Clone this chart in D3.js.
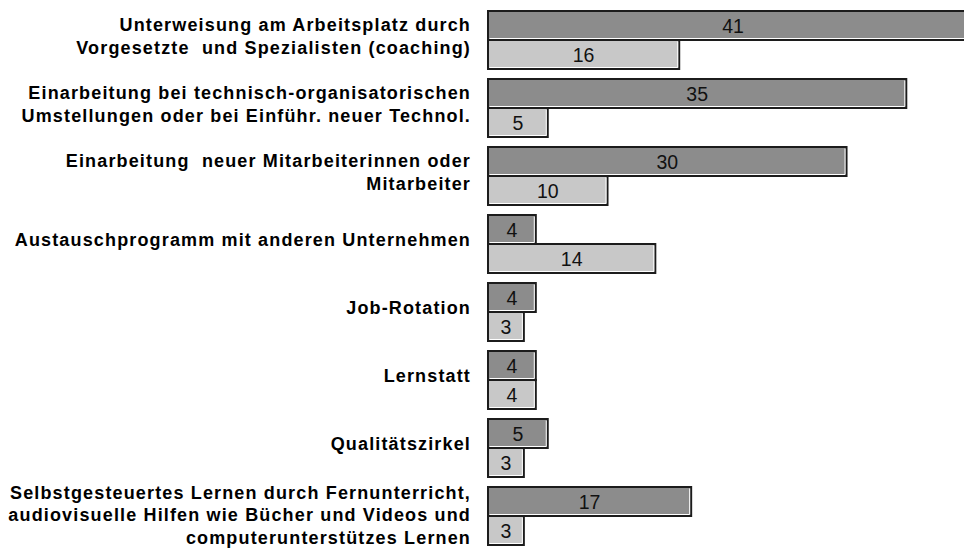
<!DOCTYPE html>
<html>
<head>
<meta charset="utf-8">
<script src="https://cdn.jsdelivr.net/npm/d3@7.9.0/dist/d3.min.js"></script>
<style>
  body { margin: 0; background: #fff; }
  svg { display: block; }
  .cat { font-family: "Liberation Sans", Arial, sans-serif; font-weight: bold; font-size: 18px; letter-spacing: 1.15px; white-space: pre; fill: #000; }
  .val { font-family: "Liberation Sans", Arial, sans-serif; font-size: 19.5px; fill: #111; }
</style>
</head>
<body>
<svg id="chart"></svg>
<script>
// data
const categories = [
  "Unterweisung am Arbeitsplatz durch\nVorgesetzte  und Spezialisten (coaching)",
  "Einarbeitung bei technisch-organisatorischen\nUmstellungen oder bei Einführ. neuer Technol.",
  "Einarbeitung  neuer Mitarbeiterinnen oder\nMitarbeiter",
  "Austauschprogramm mit anderen Unternehmen",
  "Job-Rotation",
  "Lernstatt",
  "Qualitätszirkel",
  "Selbstgesteuertes Lernen durch Fernunterricht,\naudiovisuelle Hilfen wie Bücher und Videos und\ncomputerunterstützes Lernen"
];
const seriesKeys = ['first', 'second'];
const firstValues = [41, 35, 30, 4, 4, 4, 5, 17];
const secondValues = [16, 5, 10, 14, 3, 4, 3, 3];
const seriesColors = ['#8c8c8c', '#c8c8c8'];

const width = 964;
const height = 549;

const rows = categories.map((c, i) => ({
  category: c,
  values: [
    { key: 'first', value: firstValues[i] },
    { key: 'second', value: secondValues[i] },
  ],
}));

const svg = d3.select('#chart')
  .attr('width', width)
  .attr('height', height);

const x = d3.scaleLinear()
  .domain([0, 41])
  .range([488, 978]);

const y = d3.scaleBand()
  .domain(categories)
  .range([6, 550])
  .paddingInner(10 / 68)
  .paddingOuter(5 / 68);

const ySub = d3.scaleBand()
  .domain(seriesKeys)
  .range([0, y.bandwidth()]);

const color = d3.scaleOrdinal().domain(seriesKeys).range(seriesColors);

// category labels
const lineHeight = 22.5;
const labels = svg.append('g').attr('class', 'labels');
rows.forEach(row => {
  const lines = row.category.split('\n');
  const shift = lines.length > 2 ? -1 : -4;
  const center = y(row.category) + y.bandwidth() / 2 + shift;
  const t = labels.append('text')
    .attr('class', 'cat')
    .attr('text-anchor', 'end')
    .attr('x', 471)
    .attr('y', center - (lines.length - 1) * lineHeight / 2);
  lines.forEach((line, i) => {
    t.append('tspan')
      .attr('x', 471)
      .attr('dy', i === 0 ? '0.35em' : lineHeight)
      .text(line);
  });
});

// bars
const groups = svg.append('g').attr('class', 'bars')
  .selectAll('g')
  .data(rows)
  .join('g')
  .attr('transform', d => `translate(0,${y(d.category)})`);

const bars = groups.selectAll('g')
  .data(d => d.values)
  .join('g');

bars.append('rect')
  .attr('x', x(0))
  .attr('y', d => ySub(d.key))
  .attr('width', d => x(d.value) - x(0))
  .attr('height', ySub.bandwidth())
  .attr('fill', d => color(d.key))
  .attr('stroke', '#1c1c1c')
  .attr('stroke-width', 2);

// light inner edge on the right and bottom
bars.append('path')
  .attr('fill', 'none')
  .attr('stroke', '#fff')
  .attr('stroke-width', 1)
  .attr('d', d => {
    const x0 = x(0) + 1.5, x1 = x(d.value) - 1.5;
    const y0 = ySub(d.key) + 1.5, y1 = ySub(d.key) + ySub.bandwidth() - 1.5;
    return `M${x1},${y0}V${y1}H${x0}`;
  });

bars.append('text')
  .attr('class', 'val')
  .attr('text-anchor', 'middle')
  .attr('x', d => (x(0) + x(d.value)) / 2)
  .attr('y', d => ySub(d.key) + ySub.bandwidth() / 2)
  .attr('dy', '0.36em')
  .text(d => d.value);
</script>
</body>
</html>
